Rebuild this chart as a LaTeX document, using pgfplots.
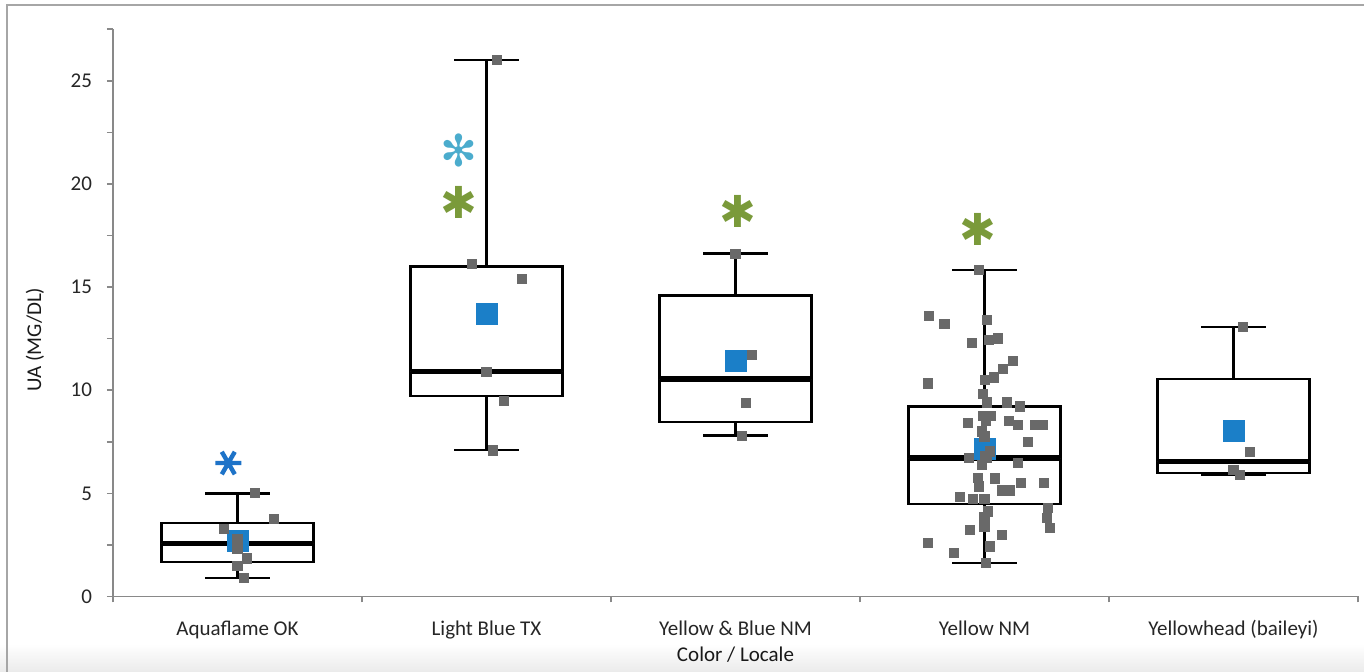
\documentclass[border=0pt]{standalone}
\usepackage{fontspec}
\setmainfont{Carlito}
\newfontfamily\symf{DejaVu Sans}
\usepackage{pgfplots}
\pgfplotsset{compat=1.18}
\usepgfplotslibrary{statistics}
\usetikzlibrary{shadings}
\definecolor{axisgray}{RGB}{137,137,137}
\definecolor{ptgray}{RGB}{105,105,105}
\definecolor{meanblue}{RGB}{27,127,200}
\definecolor{astgreen}{RGB}{122,154,58}
\definecolor{astlblue}{RGB}{75,172,205}
\definecolor{astblue}{RGB}{30,115,200}
\begin{document}
\begin{tikzpicture}
\useasboundingbox (0,0) rectangle (682pt,336pt);
\shade[top color=white, bottom color=black!8] (0,0) rectangle (682pt,14pt);
\draw[black!35, line width=0.7pt] (3.5pt,0) -- (3.5pt,333.5pt) -- (682pt,333.5pt);
\begin{axis}[
  at={(56.5pt,37.75pt)}, anchor=south west,
  scale only axis, width=622.5pt, height=283.6pt,
  xmin=-0.5, xmax=4.5, ymin=0, ymax=27.5,
  axis lines=left, axis line style={-, draw=axisgray, line width=0.8pt},
  clip=false,
  xtick={0,1,2,3,4},
  xticklabels={Aquaflame OK, Light Blue TX, Yellow \& Blue NM, Yellow NM, Yellowhead (baileyi)},
  minor xtick={-0.5,0.5,1.5,2.5,3.5,4.5},
  major x tick style={draw=none},
  minor x tick style={draw=axisgray, line width=0.8pt},
  ytick={0,5,10,15,20,25},
  minor ytick={2.5,7.5,12.5,17.5,22.5,27.5},
  y tick style={draw=axisgray, line width=0.8pt},
  tick align=outside,
  major tick length=3pt, minor tick length=3pt,
  /pgf/number format/assume math mode=true,
  tick label style={font=\fontsize{10.5}{12}\selectfont, text=black!85},
  xticklabel style={anchor=base, yshift=-16.75pt},
  yticklabel style={anchor=east, xshift=-4pt},
  xlabel={Color / Locale},
  ylabel={UA (MG/DL)},
  label style={font=\fontsize{10.5}{12}\selectfont, text=black!90},
  xlabel style={at={(axis description cs:0.5,-0.103)}, anchor=center},
  ylabel style={at={(axis description cs:-0.0627,0.453)}, anchor=center},
  boxplot/draw direction=y,
  boxplot/every median/.style={line width=2.6pt},
]
% box plots
\addplot[draw=black, line width=1.15pt, fill=white, boxplot prepared={draw position=0, lower whisker=0.9, lower quartile=1.66, median=2.57, upper quartile=3.55, upper whisker=5.0, box extend=0.61, whisker extend=0.26}] coordinates {};
\addplot[draw=black, line width=1.15pt, fill=white, boxplot prepared={draw position=1, lower whisker=7.11, lower quartile=9.72, median=10.91, upper quartile=16.0, upper whisker=26.0, box extend=0.61, whisker extend=0.26}] coordinates {};
\addplot[draw=black, line width=1.15pt, fill=white, boxplot prepared={draw position=2, lower whisker=7.81, lower quartile=8.47, median=10.54, upper quartile=14.59, upper whisker=16.63, box extend=0.61, whisker extend=0.26}] coordinates {};
\addplot[draw=black, line width=1.15pt, fill=white, boxplot prepared={draw position=3, lower whisker=1.61, lower quartile=4.47, median=6.71, upper quartile=9.21, upper whisker=15.82, box extend=0.61, whisker extend=0.26}] coordinates {};
\addplot[draw=black, line width=1.15pt, fill=white, boxplot prepared={draw position=4, lower whisker=5.91, lower quartile=5.98, median=6.56, upper quartile=10.56, upper whisker=13.08, box extend=0.61, whisker extend=0.26}] coordinates {};
% means
\addplot[only marks, mark=square*, mark size=5.25pt, mark options={fill=meanblue, draw=meanblue, line width=0pt}] coordinates {
(0,2.71) (1,13.71) (2,11.4) (3,7.14) (4,8.03)};
% individual points
\addplot[only marks, mark=square*, mark size=2.3pt, mark options={fill=ptgray, draw=ptgray, line width=0pt}] coordinates {
(0.07,5.0) (0.147,3.75) (-0.054,3.28) (0,2.79) (0,2.29) (0.039,1.84) (0,1.47) (0.026,0.91)
(1.042,26.0) (0.943,16.13) (1.144,15.41) (1.0,10.9) (1.07,9.49) (1.025,7.08)
(2.0,16.6) (2.067,11.69) (2.041,9.39) (2.025,7.78)
(2.979,15.82) (2.777,13.58) (2.839,13.23) (3.01,13.41) (2.95,12.29) (3.018,12.42) (3.053,12.51)
(3.114,11.42) (3.075,11.03) (3.039,10.62) (3.003,10.51) (2.774,10.33) (2.995,9.81) (3.009,9.41)
(3.089,9.41) (3.143,9.21) (2.995,8.76) (3.026,8.76) (3.006,8.49) (2.934,8.41) (3.098,8.50)
(3.133,8.33) (3.203,8.33) (3.236,8.33) (2.989,8.0) (3.0,7.76) (3.176,7.50) (3.022,7.03)
(3.003,6.79) (2.937,6.71) (3.009,6.71) (2.989,6.38) (3.133,6.49) (2.975,5.74) (3.042,5.72)
(2.979,5.33) (3.145,5.50) (3.24,5.50) (3.069,5.14) (3.102,5.14) (2.902,4.82) (2.953,4.72)
(3.0,4.72) (3.256,4.28) (3.015,4.12) (3.0,3.87) (3.25,3.80) (3.0,3.63) (3.0,3.39)
(2.942,3.23) (3.263,3.31) (3.069,2.99) (2.774,2.58) (3.022,2.42) (2.879,2.10) (3.006,1.61)
(4.039,13.08) (4.066,7.01) (4.0,6.14) (4.026,5.88)};
% significance markers
\addplot[only marks, mark=asterisk, mark size=6.5pt, mark options={draw=astblue, line width=2.2pt, rotate=90}] coordinates {(-0.037,6.47)};
\addplot[only marks, mark=text, text mark={\textcolor{astlblue}{\symf\fontsize{22}{22}\selectfont ✻}}] coordinates {(0.891,21.62)};
\addplot[only marks, mark=text, text mark={\textcolor{astgreen}{\symf\fontsize{22}{22}\selectfont ✱}}] coordinates {(0.891,19.12) (2.011,18.68) (2.974,17.8)};
\end{axis}
\end{tikzpicture}
\end{document}
